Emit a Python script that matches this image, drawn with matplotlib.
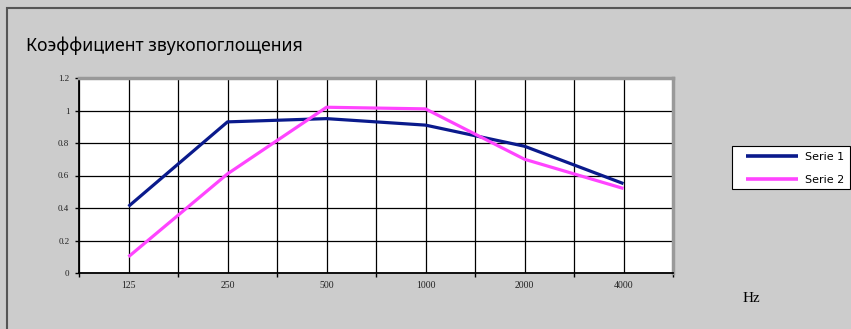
import matplotlib.pyplot as plt
from matplotlib.patches import Rectangle

# Данные
freqs = ['125', '250', '500', '1000', '2000', '4000']
serie1 = [0.41, 0.93, 0.95, 0.91, 0.78, 0.55]
serie2 = [0.10, 0.61, 1.02, 1.01, 0.70, 0.52]
yticks = [0, 0.2, 0.4, 0.6, 0.8, 1, 1.2]
ylabels = ['0', '0.2', '0.4', '0.6', '0.8', '1', '1.2']

W, H = 851, 329
fig = plt.figure(figsize=(W / 100, H / 100), dpi=100)
fig.patch.set_facecolor('#cccccc')

# рамка вокруг диаграммы
fig.add_artist(Rectangle((7 / W, -0.1), 1.2, (H - 8) / H + 0.1, transform=fig.transFigure,
                         fill=False, edgecolor='#555555', linewidth=1.5))

ax = fig.add_axes([79 / W, (H - 273) / H, (673 - 79) / W, (273 - 78) / H])
ax.set_facecolor('white')

x = list(range(len(freqs)))
ax.plot(x, serie1, color='#0a1a8c', linewidth=2.3, label='Serie 1', solid_capstyle='butt')
ax.plot(x, serie2, color='#ff44ff', linewidth=2.3, label='Serie 2', solid_capstyle='butt')

ax.set_xlim(-0.5, len(freqs) - 0.5)
ax.set_ylim(0, 1.2)

# деления на границах категорий, подписи по центрам
ax.set_xticks([i - 0.5 for i in range(len(freqs) + 1)])
ax.set_xticklabels([])
ax.set_xticks(x, minor=True)
ax.set_xticklabels(freqs, minor=True, fontsize=7, family='Liberation Serif', color='#222222')
ax.tick_params(axis='x', which='major', length=3, width=1, direction='out')
ax.tick_params(axis='x', which='minor', length=0, pad=6)
ax.set_yticks(yticks)
ax.set_yticklabels(ylabels, fontsize=6.5, family='Liberation Serif', color='#222222')
ax.tick_params(axis='y', length=3, width=1, direction='out', pad=4)

ax.grid(True, which='both', color='black', linewidth=0.9)
ax.set_axisbelow(True)

for s in ['left', 'bottom']:
    ax.spines[s].set_color('black')
    ax.spines[s].set_linewidth(1.3)
for s in ['top', 'right']:
    ax.spines[s].set_color('#999999')
    ax.spines[s].set_linewidth(2.5)

fig.text(26 / W, 1 - 46 / H, 'Коэффициент звукопоглощения', fontsize=12.7,
         family='Noto Sans', va='center', ha='left', color='black')
fig.text(751 / W, 1 - 298 / H, 'Hz', fontsize=11, family='Liberation Serif',
         va='center', ha='center', color='black')

# рамка легенды отдельно (поля по горизонтали шире, чем по вертикали)
fig.add_artist(Rectangle((732 / W, 1 - 189 / H), (850 - 732) / W, 43 / H,
                         transform=fig.transFigure, facecolor='white',
                         edgecolor='black', linewidth=0.8, zorder=1))
leg = fig.legend(loc='upper left', bbox_to_anchor=(746 / W, 1 - 152 / H), frameon=False,
                 handlelength=4.7, borderpad=0, borderaxespad=0,
                 labelspacing=1.2, handletextpad=0.6,
                 prop={'family': 'DejaVu Sans', 'size': 8})
leg.set_zorder(2)
for line in leg.get_lines():
    line.set_linewidth(2.6)

fig.savefig('out.png', dpi=100, facecolor=fig.get_facecolor())
